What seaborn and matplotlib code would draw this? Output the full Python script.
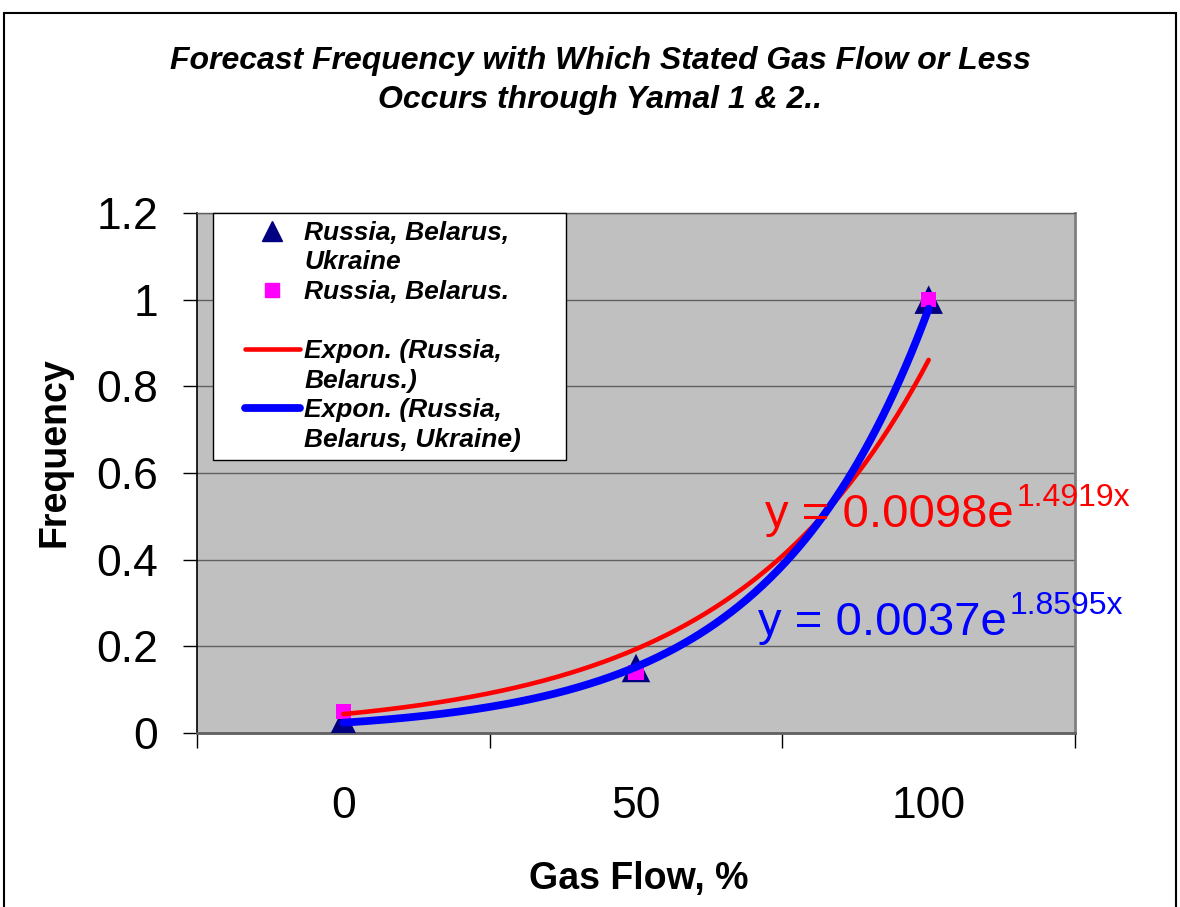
import numpy as np
import pandas as pd
import matplotlib
matplotlib.use("Agg")
import matplotlib.pyplot as plt
import seaborn as sns
from matplotlib.lines import Line2D
from matplotlib.patches import Rectangle
from matplotlib.legend_handler import HandlerLine2D

# ---------------- data ----------------
categories = ["0", "50", "100"]
freq_rbu = [0.025, 0.15, 1.0]   # Russia, Belarus, Ukraine (triangles)
freq_rb = [0.05, 0.14, 1.0]     # Russia, Belarus. (squares)
trend_rb = [0.0098, 1.4919]     # y = A e^(Bx)  (red)
trend_rbu = [0.0037, 1.8595]    # y = A e^(Bx)  (blue)
y_ticks = [0, 0.2, 0.4, 0.6, 0.8, 1.0, 1.2]
y_tick_labels = ["0", "0.2", "0.4", "0.6", "0.8", "1", "1.2"]

title = "Forecast Frequency with Which Stated Gas Flow or Less\nOccurs through Yamal 1 & 2.."

# ---------------- style ----------------
sns.set_theme(style="white")
plt.rcParams["font.family"] = ["Liberation Sans", "DejaVu Sans"]
for k in ["text.color", "axes.labelcolor", "xtick.color", "ytick.color"]:
    plt.rcParams[k] = "black"

W, H = 1180, 907
fig = plt.figure(figsize=(W / 100, H / 100), dpi=100)
fig.patch.set_facecolor("white")
ax = fig.add_axes([197 / W, 1 - 733 / H, 878 / W, 520 / H])
ax.set_facecolor("#C0C0C0")

pos = np.arange(1, len(categories) + 1)
df = pd.DataFrame({"pos": pos, "rbu": freq_rbu, "rb": freq_rb})

sns.scatterplot(data=df, x="pos", y="rbu", marker="^", s=420, color="#000080",
                edgecolor="none", ax=ax, zorder=3, legend=False)
sns.scatterplot(data=df, x="pos", y="rb", marker="s", s=121, color="#FF00FF",
                edgecolor="none", ax=ax, zorder=4, legend=False)

xs = np.linspace(pos[0], pos[-1], 300)
sns.lineplot(x=xs, y=trend_rb[0] * np.exp(trend_rb[1] * xs), color="#FF0000",
             lw=3.3, ax=ax, zorder=5)
sns.lineplot(x=xs, y=trend_rbu[0] * np.exp(trend_rbu[1] * xs), color="#0000FF",
             lw=5.6, ax=ax, zorder=6)

# ---------------- axes ----------------
ax.set_xlim(0.5, len(categories) + 0.5)
ax.set_ylim(0, 1.2)
ax.set_yticks(y_ticks)
ax.set_yticklabels(y_tick_labels)
ax.yaxis.grid(True, color="#606060", lw=1.0)
ax.xaxis.grid(False)
ax.set_axisbelow(True)

ax.set_xticks(np.arange(0.5, len(categories) + 1, 1.0))
ax.set_xticklabels([])
ax.set_xticks(pos, minor=True)
ax.set_xticklabels(categories, minor=True)
ax.tick_params(axis="x", which="major", direction="out", length=11, width=1,
               color="black", bottom=True)
ax.tick_params(axis="x", which="minor", length=0, pad=38, labelsize=32)
ax.tick_params(axis="y", direction="out", length=10, width=1, color="black",
               left=True, pad=18, labelsize=32)

ax.spines["left"].set_color("black")
ax.spines["left"].set_linewidth(1.2)
ax.spines["bottom"].set_color("#606060")
ax.spines["bottom"].set_linewidth(2)
ax.spines["right"].set_color("#808080")
ax.spines["right"].set_linewidth(2)
ax.spines["top"].set_color("#606060")
ax.spines["top"].set_linewidth(1)

ax.set_xlabel("Gas Flow, %", fontsize=27, fontweight="bold")
ax.xaxis.set_label_coords(0.503, -0.246)
ax.set_ylabel("Frequency", fontsize=27, fontweight="bold")
ax.yaxis.set_label_coords(-0.142, 0.54)

fig.text(600 / W, 1 - 46 / H, title, ha="center", va="top", fontsize=23,
         fontweight="bold", fontstyle="italic", linespacing=1.38)

# ---------------- equations ----------------
for (A, B), col, (tx, ty) in [(trend_rb, "#FF0000", (2.441, 0.475)),
                               (trend_rbu, "#0000FF", (2.417, 0.226))]:
    t = ax.text(tx, ty, f"y = {A:.4f}e", color=col, fontsize=34,
                ha="left", va="baseline", zorder=7)
    ax.annotate(f"{B:.4f}x", xy=(1.0, 1.0), xycoords=t, xytext=(2, 7),
                textcoords="offset points", ha="left", va="top",
                color=col, fontsize=23, zorder=7, annotation_clip=False)

# ---------------- legend ----------------
blank = Line2D([], [], ls="", marker="")
handles = [
    Line2D([], [], ls="", marker="^", color="#000080", markersize=14),
    blank,
    Line2D([], [], ls="", marker="s", color="#FF00FF", markersize=10),
    blank,
    Line2D([], [], color="#FF0000", lw=3.3),
    blank,
    Line2D([], [], color="#0000FF", lw=5.6),
    blank,
]
labels = ["Russia, Belarus,", "Ukraine", "Russia, Belarus.", "",
          "Expon. (Russia,", "Belarus.)", "Expon. (Russia,", "Belarus, Ukraine)     "]
leg = ax.legend(handles, labels, loc="upper left",
                bbox_to_anchor=((213 - 197) / 878, 1.0), borderaxespad=0,
                frameon=True, fancybox=False, framealpha=1, facecolor="white",
                edgecolor="black", labelspacing=0.21, handlelength=3.0,
                handletextpad=0.15, borderpad=0.3,
                handler_map={Line2D: HandlerLine2D(xpad=0.9)},
                prop={"size": 19, "weight": "bold", "style": "italic"})
leg.get_frame().set_linewidth(1.0)
leg.set_zorder(10)

# figure border
fig.patches.append(Rectangle((4 / W, -0.01), 1172 / W, 1 - 13 / H + 0.01,
                             transform=fig.transFigure, fill=False,
                             ec="black", lw=1.5))

fig.savefig("out.png", dpi=100)
